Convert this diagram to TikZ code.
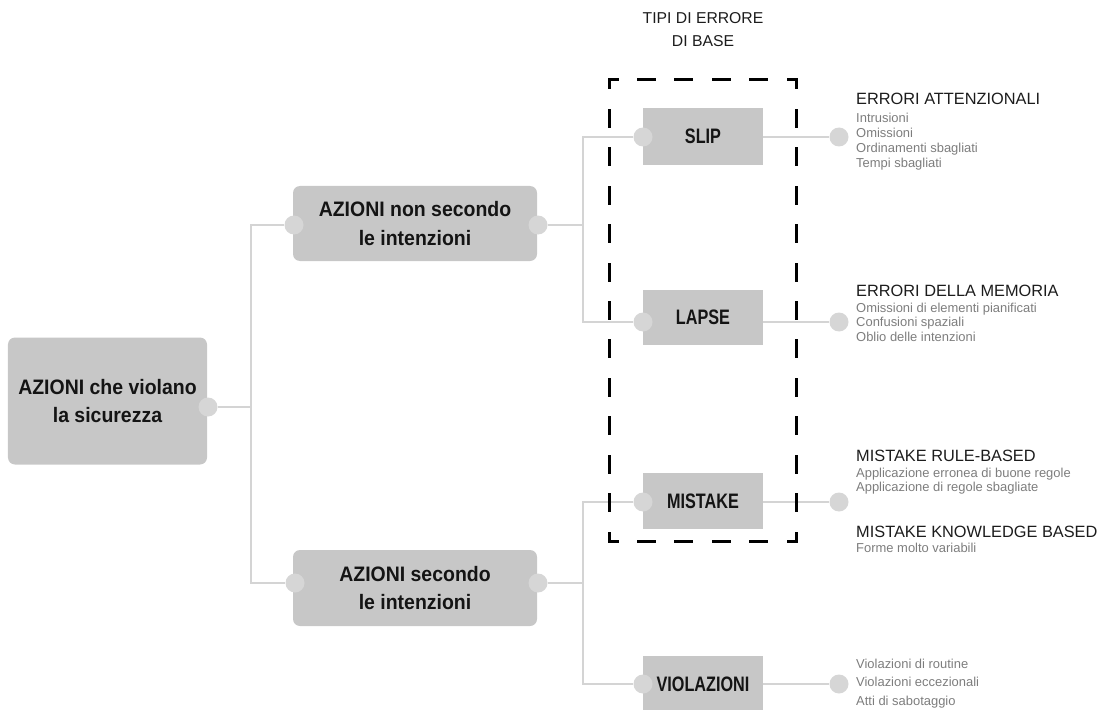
\documentclass[tikz,border=0pt]{standalone}
\usepackage{fontspec}
\setmainfont{Liberation Sans}
\newfontfamily\bigboxfont{Liberation Sans}[FakeStretch=0.93]
\newfontfamily\smallboxfont{Liberation Sans}[FakeStretch=0.775]

\definecolor{boxgray}{RGB}{199,199,199}
\definecolor{dotgray}{RGB}{214,214,214}
\definecolor{linegray}{RGB}{212,212,212}
\definecolor{subgray}{RGB}{125,125,125}
\definecolor{headblack}{RGB}{28,28,28}
\definecolor{boxtext}{RGB}{20,20,20}

\tikzset{
  bigbox/.style={fill=boxgray, draw=none, rounded corners=7bp, inner sep=0pt,
    align=center, text=boxtext, font=\bigboxfont\bfseries\fontsize{21}{29}\selectfont},
  smallbox/.style={fill=boxgray, draw=none, inner sep=0pt, minimum width=120bp,
    text=boxtext, font=\smallboxfont\bfseries\fontsize{21}{24}\selectfont},
  dot/.style={circle, fill=dotgray, draw=none, minimum size=19bp, inner sep=0pt},
  conn/.style={draw=linegray, line width=2bp},
  head/.style={anchor=base west, inner sep=0pt, text=headblack,
    font=\fontsize{16.4}{18}\selectfont},
  sub/.style={anchor=base west, inner sep=0pt, text=subgray,
    font=\fontsize{13}{15}\selectfont},
  title/.style={anchor=base, inner sep=0pt, text=headblack,
    font=\fontsize{15.8}{18}\selectfont},
  frameline/.style={line width=3bp, line cap=rect, draw=black}
}

\begin{document}
\begin{tikzpicture}[x=1bp, y=-1bp]
\useasboundingbox (0,0) rectangle (1107,710);

% main boxes
\node[bigbox, minimum width=199bp, minimum height=127bp] (root) at (107.5,401)
  {AZIONI che violano\\la sicurezza};
\node[bigbox, minimum width=244bp, minimum height=75bp] (up) at (415,223.5)
  {AZIONI non secondo\\le intenzioni};
\node[bigbox, minimum width=244bp, minimum height=76bp] (low) at (415,588)
  {AZIONI secondo\\le intenzioni};

% basic error types
\node[smallbox, minimum height=57bp] (slip) at (703,136.5) {SLIP};
\node[smallbox, minimum height=55bp] (lapse) at (703,317.5) {LAPSE};
\node[smallbox, minimum height=56bp] (mistake) at (703,501) {MISTAKE};
\node[smallbox, minimum height=57bp] (viol) at (703,684) {VIOLAZIONI};

% connection dots
\node[dot] (rootR) at (208,407) {};
\node[dot] (upL) at (294,225) {};
\node[dot] (upR) at (538,225) {};
\node[dot] (lowL) at (295,583) {};
\node[dot] (lowR) at (538,583) {};
\node[dot] (slipL) at (643,137) {};
\node[dot] (lapseL) at (643,322) {};
\node[dot] (mistakeL) at (643,502) {};
\node[dot] (violL) at (643,684) {};
\node[dot] (slipR) at (839,137) {};
\node[dot] (lapseR) at (839,322) {};
\node[dot] (mistakeR) at (839,502) {};
\node[dot] (violR) at (839,684) {};

% branch junctions
\coordinate (jL) at (251,407);
\coordinate (jU) at (583,225);
\coordinate (jB) at (583,583);

% connectors
\draw[conn] (rootR) -- (jL);
\draw[conn] (upL) -| (jL) |- (lowL);
\draw[conn] (upR) -- (jU);
\draw[conn] (slipL) -| (jU) |- (lapseL);
\draw[conn] (lowR) -- (jB);
\draw[conn] (mistakeL) -| (jB) |- (violL);
\draw[conn] (slip.east |- slipR) -- (slipR);
\draw[conn] (lapse.east |- lapseR) -- (lapseR);
\draw[conn] (mistake.east |- mistakeR) -- (mistakeR);
\draw[conn] (viol.east |- violR) -- (violR);

% dashed frame around the basic error types
\coordinate (fTL) at (609,80);
\coordinate (fTR) at (796,80);
\coordinate (fBR) at (796,541);
\coordinate (fBL) at (609,541);
\draw[frameline, dash pattern=on 16bp off 21.4bp, dash phase=8bp] (fTL) -- (fTR);
\draw[frameline, dash pattern=on 16bp off 21.4bp, dash phase=8bp] (fBL) -- (fBR);
\draw[frameline, dash pattern=on 16bp off 22.42bp, dash phase=8bp] (fTL) -- (fBL);
\draw[frameline, dash pattern=on 16bp off 22.42bp, dash phase=8bp] (fTR) -- (fBR);

% frame title
\node[title] (t1) at (703,24) {TIPI DI ERRORE};
\node[title] (t2) at (703,47) {DI BASE};

% descriptions
\node[head] (h1) at (856,105) {ERRORI ATTENZIONALI};
\node[sub] (s11) at (856,123) {Intrusioni};
\node[sub] (s12) at (856,137.7) {Omissioni};
\node[sub] (s13) at (856,152.4) {Ordinamenti sbagliati};
\node[sub] (s14) at (856,167.1) {Tempi sbagliati};

\node[head] (h2) at (856,296) {ERRORI DELLA MEMORIA};
\node[sub] (s21) at (856,312) {Omissioni di elementi pianificati};
\node[sub] (s22) at (856,326.7) {Confusioni spaziali};
\node[sub] (s23) at (856,341.4) {Oblio delle intenzioni};

\node[head] (h3) at (856,461) {MISTAKE RULE-BASED};
\node[sub] (s31) at (856,477) {Applicazione erronea di buone regole};
\node[sub] (s32) at (856,491.7) {Applicazione di regole sbagliate};
\node[head] (h4) at (856,537) {MISTAKE KNOWLEDGE BASED};
\node[sub] (s41) at (856,552) {Forme molto variabili};

\node[sub] (s51) at (856,668) {Violazioni di routine};
\node[sub] (s52) at (856,686.5) {Violazioni eccezionali};
\node[sub] (s53) at (856,705) {Atti di sabotaggio};
\end{tikzpicture}
\end{document}
